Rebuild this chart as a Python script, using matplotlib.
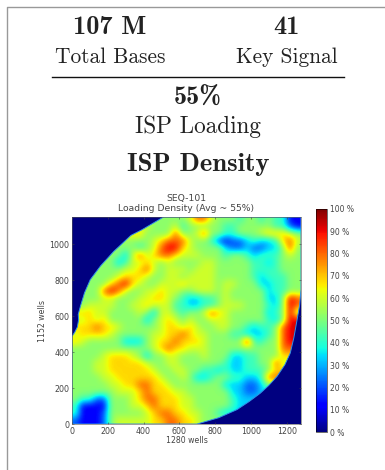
import numpy as np
import matplotlib
matplotlib.use("Agg")
import matplotlib.pyplot as plt
from matplotlib.lines import Line2D
from matplotlib.patches import Polygon

W, H = 385, 470
density_rows = [
    "00000000 00005555 68865554 55454411",
    "00000000 00655564 55555445 55554421",
    "00000000 07555585 56855445 55677765",
    "00000000 55567888 65542122 34334786",
    "00000005 54568997 65555322 32233585",
    "00000553 68678876 66555455 43444565",
    "00005534 66765655 55665555 54434555",
    "00005556 67865666 56665555 54444555",
    "00055567 77655665 66665555 54344455",
    "00555789 76556667 66665665 55334455",
    "00558986 55667665 56665655 55534455",
    "05556655 56677654 33445655 55533598",
    "05666655 66766644 33445666 55543598",
    "07766555 56536654 55687655 55534595",
    "06767555 55356765 65566655 55543590",
    "07787765 55556776 76556655 43445890",
    "67777655 55566778 76655544 33345890",
    "76555553 33567787 77655555 94455890",
    "55555555 55567877 66655555 55555880",
    "55556777 65355665 55655533 44555700",
    "55566777 77655665 55555433 44558600",
    "55566777 77765566 55443433 44457000",
    "55556677 77776556 53345544 33480000",
    "55555667 78877655 55555333 22350000",
    "55555566 67877766 55555533 22300000",
    "54422555 67887776 65555543 30000000",
    "41111555 66787776 65555543 00000000",
    "41112555 55678877 66554300 00000000",
    "21112566 66677887 76500000 00000000",
]
level_percent = [0, 12, 22, 33, 42, 52, 60, 68, 80, 92]
# Wafer outline, in wells
edge_x = [0, 0, 15, 30, 37, 35, 47, 70, 102, 160, 233, 330, 391, 512,
          1280, 1280, 1272, 1258, 1240, 1220, 1190, 1146, 1100, 1053, 990, 922, 820, 699]
edge_y = [0, 488, 510, 540, 580, 610, 655, 730, 803, 880, 960, 1050, 1081, 1152,
          1152, 748, 660, 580, 480, 395, 330, 265, 215, 172, 125, 80, 35, 0]
x_ticks = [0, 200, 400, 600, 800, 1000, 1200]
y_ticks = [0, 200, 400, 600, 800, 1000]
cbar_ticks = [0, 10, 20, 30, 40, 50, 60, 70, 80, 90, 100]
chart_title = "SEQ-101\nLoading Density (Avg ~ 55%)"

levels = np.array([[int(c) for c in r.replace(" ", "")] for r in density_rows])
density = np.array(level_percent, dtype=float)[levels]
# cells outside the wafer take the nearest value in their row, the outline clips them
for row in density:
    filled = np.nonzero(row)[0]
    for j in np.nonzero(row == 0)[0]:
        row[j] = row[filled[np.argmin(abs(filled - j))]]

def box(x0, y0, x1, y1):
    return [x0 / W, 1 - y1 / H, (x1 - x0) / W, (y1 - y0) / H]

fig = plt.figure(figsize=(W / 100, H / 100), dpi=100, facecolor="white")
ink = "#222222"
soft = "#444444"

def label(x, y, s, size, bold=False):
    fig.text(x / W, 1 - y / H, s, ha="center", va="center", fontsize=size,
             family="cmb10" if bold else "cmr10", color=ink)

label(110, 28, "107 M", 19, True)
label(286, 28, "41", 19, True)
label(110, 57, "Total Bases", 15.4)
label(287, 57, "Key Signal", 15.4)
label(198, 98, "55%", 18.8, True)
label(198, 127, "ISP Loading", 16.7)
label(198, 165, "ISP Density", 19.2, True)

fig.add_artist(Line2D([52 / W, 344 / W], [1 - 77 / H] * 2, color="#111111", lw=1.0))
fig.add_artist(Line2D([7 / W, 7 / W, 1], [0, 1 - 7 / H, 1 - 7 / H], color="#999999", lw=1.0))

ax = fig.add_axes(box(72, 217, 301, 424))
ax.set_facecolor(plt.get_cmap("jet")(0.0))
im = ax.imshow(density, cmap="jet", vmin=0, vmax=100, origin="upper", aspect="auto",
               extent=[0, 1280, 0, 1160], interpolation="bicubic")
outline = Polygon(np.column_stack([edge_x, edge_y]), closed=True, transform=ax.transData,
                  facecolor="none", edgecolor="#2f8fe8", lw=0.7)
ax.add_patch(outline)
im.set_clip_path(outline)
ax.set_xlim(0, 1280)
ax.set_ylim(0, 1152)
ax.set_xticks(x_ticks)
ax.set_yticks(y_ticks)
ax.tick_params(labelsize=5.7, length=1.5, width=0.4, pad=2, colors=soft, direction="in",
               top=True, right=True)
ax.set_xlabel("1280 wells", fontsize=5.6, labelpad=0, color=soft)
ax.set_ylabel("1152 wells", fontsize=5.6, labelpad=1.5, color=soft)
ax.set_title(chart_title, fontsize=6.7, pad=4.2, color=soft, linespacing=1.15)
for s in ax.spines.values():
    s.set_linewidth(0.4)
    s.set_color("#555555")

cax = fig.add_axes(box(316, 209, 327, 432))
cb = fig.colorbar(im, cax=cax, ticks=cbar_ticks)
cb.ax.set_yticklabels([f"{t} %" for t in cbar_ticks])
cb.ax.tick_params(labelsize=5.5, length=0, pad=2, colors=soft)
cb.outline.set_linewidth(0.4)

fig.savefig("out.png", dpi=100)
